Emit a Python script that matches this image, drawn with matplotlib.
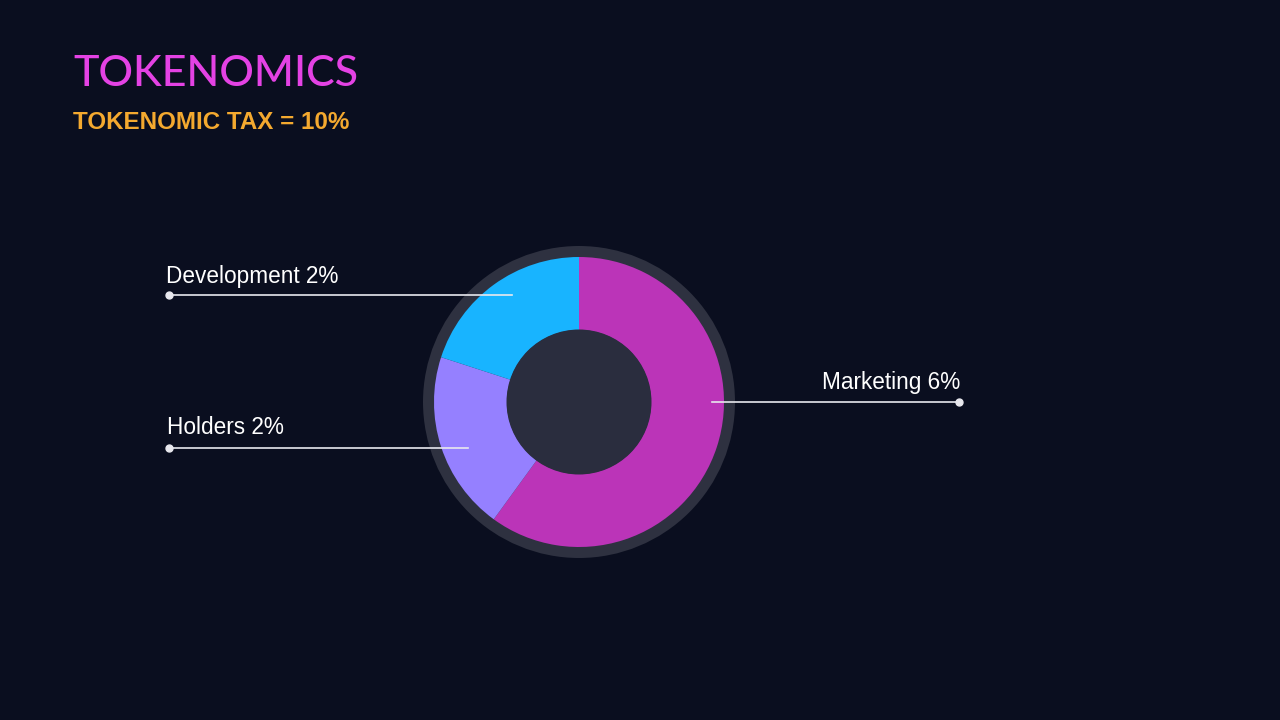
import matplotlib
matplotlib.use("Agg")
import matplotlib.pyplot as plt
from matplotlib.patches import Circle

categories = ["Marketing", "Holders", "Development"]
values = [6, 2, 2]
colors = ["#bb34b8", "#9580ff", "#18b4ff"]
title = "TOKENOMICS"
subtitle = "TOKENOMIC TAX = 10%"

BG = "#0a0e1f"
W, H = 1280, 720
fig = plt.figure(figsize=(12.8, 7.2), dpi=100, facecolor=BG)
ax = fig.add_axes([0, 0, 1, 1])
ax.set_facecolor(BG)

def Y(py):
    return H - py

cx, cy = 579, Y(402)
R = 145
r_in = 72

ax.add_patch(Circle((cx, cy), 156, facecolor="#2e3140", edgecolor="none", zorder=1))
wedges, _ = ax.pie(values, colors=colors, startangle=90, counterclock=False,
                   radius=R, center=(cx, cy),
                   wedgeprops=dict(width=R - r_in, edgecolor="none", linewidth=0))
for w in wedges:
    w.set_zorder(2)
ax.add_patch(Circle((cx, cy), r_in + 0.5, facecolor="#2a2d3e", edgecolor="none", zorder=3))

lab = {c: f"{c} {v}%" for c, v in zip(categories, values)}
lc = "#e8e8ee"
fs = 16.3
# Development
ax.plot([169, 512], [Y(295), Y(295)], color=lc, lw=1.2, zorder=5)
ax.plot([169], [Y(295)], "o", color=lc, ms=5, zorder=5)
ax.text(166, Y(283), lab["Development"], color="white", fontsize=fs,
        family="Liberation Sans", ha="left", va="baseline", zorder=5)
# Holders
ax.plot([169, 468], [Y(448), Y(448)], color=lc, lw=1.2, zorder=5)
ax.plot([169], [Y(448)], "o", color=lc, ms=5, zorder=5)
ax.text(167, Y(434), lab["Holders"], color="white", fontsize=fs,
        family="Liberation Sans", ha="left", va="baseline", zorder=5)
# Marketing
ax.plot([712, 959], [Y(402), Y(402)], color=lc, lw=1.2, zorder=5)
ax.plot([959], [Y(402)], "o", color=lc, ms=5, zorder=5)
ax.text(960, Y(389), lab["Marketing"], color="white", fontsize=fs,
        family="Liberation Sans", ha="right", va="baseline", zorder=5)

# titles
ax.text(73, Y(86), title, color="#e442e4", fontsize=31, family="Lato",
        fontweight="medium", ha="left", va="baseline")
ax.text(73, Y(129), subtitle, color="#f4a92f", fontsize=17.4, family="Liberation Sans",
        fontweight="bold", ha="left", va="baseline")

ax.set_xlim(0, W)
ax.set_ylim(0, H)
ax.set_aspect("auto")
ax.axis("off")
fig.savefig("out.png", dpi=100, facecolor=BG)
